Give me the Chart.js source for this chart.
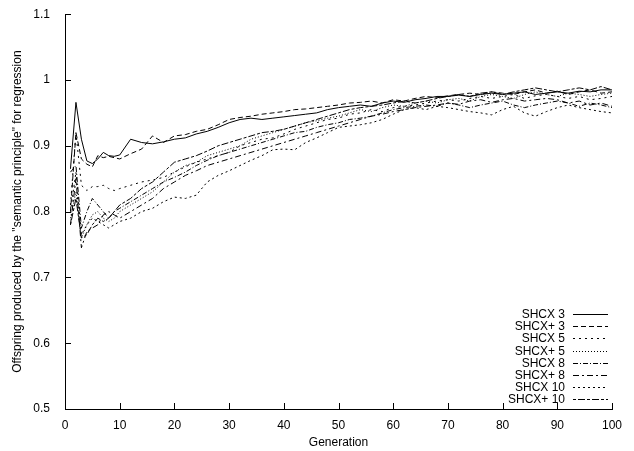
<!DOCTYPE html>
<html>
<head>
<meta charset="utf-8">
<script src="https://cdn.jsdelivr.net/npm/chart.js@4/dist/chart.umd.min.js"></script>
<style>
  html, body { margin: 0; padding: 0; background: #fff; }
  canvas { display: block; }
</style>
</head>
<body>
<canvas id="chart" width="634" height="451"></canvas>
<script>
// Generations sampled from the plot (every gen early on, then every 2nd)
const generations = [1, 2, 3, 4, 5, 6, 7, 8, 9, 10,
  12, 14, 16, 18, 20, 22, 24, 26, 28, 30,
  32, 34, 36, 38, 40, 42, 44, 46, 48, 50,
  52, 54, 56, 58, 60, 62, 64, 66, 68, 70,
  72, 74, 76, 78, 80, 82, 84, 86, 88, 90,
  92, 94, 96, 98, 100];

const seriesNames = ["SHCX 3", "SHCX+ 3", "SHCX 5", "SHCX+ 5", "SHCX 8", "SHCX+ 8", "SHCX 10", "SHCX+ 10"];

const shcx3 = [0.865, 0.966, 0.910, 0.877, 0.873, 0.880, 0.890, 0.885, 0.884, 0.886,
  0.910, 0.905, 0.903, 0.906, 0.910, 0.912, 0.918, 0.922, 0.928, 0.935,
  0.940, 0.942, 0.940, 0.942, 0.944, 0.946, 0.948, 0.950, 0.955, 0.958,
  0.960, 0.962, 0.960, 0.965, 0.968, 0.966, 0.970, 0.972, 0.975, 0.975,
  0.977, 0.975, 0.978, 0.980, 0.978, 0.980, 0.982, 0.978, 0.980, 0.982,
  0.980, 0.983, 0.982, 0.985, 0.985];

const shcxPlus3 = [0.800, 0.920, 0.880, 0.872, 0.868, 0.885, 0.882, 0.884, 0.882, 0.880,
  0.888, 0.895, 0.915, 0.905, 0.915, 0.917, 0.922, 0.925, 0.932, 0.940,
  0.943, 0.945, 0.948, 0.950, 0.952, 0.955, 0.956, 0.958, 0.960, 0.962,
  0.965, 0.966, 0.968, 0.965, 0.970, 0.968, 0.972, 0.975, 0.973, 0.976,
  0.978, 0.980, 0.978, 0.982, 0.980, 0.978, 0.982, 0.985, 0.980, 0.983,
  0.978, 0.982, 0.985, 0.980, 0.982];

const shcx5 = [0.810, 0.920, 0.840, 0.832, 0.838, 0.838, 0.840, 0.835, 0.832, 0.835,
  0.840, 0.845, 0.848, 0.852, 0.860, 0.868, 0.875, 0.880, 0.885, 0.890,
  0.900, 0.905, 0.910, 0.912, 0.918, 0.925, 0.930, 0.935, 0.940, 0.942,
  0.948, 0.950, 0.955, 0.952, 0.958, 0.960, 0.962, 0.965, 0.968, 0.970,
  0.968, 0.972, 0.975, 0.972, 0.975, 0.978, 0.972, 0.976, 0.978, 0.975,
  0.972, 0.975, 0.970, 0.972, 0.975];

const shcxPlus5 = [0.790, 0.830, 0.760, 0.780, 0.795, 0.800, 0.790, 0.785, 0.790, 0.800,
  0.810, 0.820, 0.830, 0.845, 0.860, 0.870, 0.875, 0.885, 0.890, 0.895,
  0.900, 0.910, 0.915, 0.920, 0.925, 0.930, 0.935, 0.938, 0.942, 0.945,
  0.950, 0.955, 0.952, 0.958, 0.962, 0.960, 0.965, 0.968, 0.965, 0.970,
  0.972, 0.968, 0.975, 0.978, 0.975, 0.972, 0.978, 0.982, 0.978, 0.975,
  0.980, 0.978, 0.975, 0.978, 0.980];

const shcx8 = [0.860, 0.870, 0.775, 0.800, 0.820, 0.810, 0.800, 0.790, 0.800, 0.805,
  0.815, 0.825, 0.835, 0.845, 0.852, 0.860, 0.870, 0.878, 0.885, 0.890,
  0.895, 0.900, 0.905, 0.910, 0.915, 0.920, 0.922, 0.928, 0.932, 0.935,
  0.940, 0.942, 0.945, 0.950, 0.955, 0.958, 0.960, 0.962, 0.960, 0.965,
  0.962, 0.958, 0.962, 0.965, 0.968, 0.962, 0.958, 0.962, 0.965, 0.968,
  0.965, 0.960, 0.965, 0.962, 0.958];

const shcxPlus8 = [0.780, 0.850, 0.745, 0.770, 0.775, 0.780, 0.795, 0.800, 0.795, 0.790,
  0.800, 0.810, 0.820, 0.835, 0.845, 0.855, 0.862, 0.870, 0.875, 0.880,
  0.885, 0.890, 0.895, 0.900, 0.905, 0.910, 0.915, 0.920, 0.925, 0.930,
  0.935, 0.940, 0.945, 0.948, 0.952, 0.955, 0.958, 0.960, 0.962, 0.965,
  0.963, 0.968, 0.970, 0.966, 0.970, 0.972, 0.968, 0.970, 0.972, 0.970,
  0.965, 0.968, 0.962, 0.965, 0.960];

const shcx10 = [0.800, 0.860, 0.765, 0.780, 0.790, 0.785, 0.780, 0.775, 0.780, 0.785,
  0.790, 0.800, 0.805, 0.815, 0.822, 0.820, 0.825, 0.845, 0.855, 0.862,
  0.870, 0.878, 0.885, 0.894, 0.895, 0.894, 0.905, 0.912, 0.920, 0.928,
  0.930, 0.932, 0.935, 0.940, 0.948, 0.955, 0.958, 0.955, 0.960, 0.958,
  0.955, 0.952, 0.950, 0.947, 0.955, 0.960, 0.950, 0.945, 0.952, 0.958,
  0.962, 0.958, 0.955, 0.952, 0.950];

const shcxPlus10 = [0.780, 0.820, 0.760, 0.765, 0.780, 0.790, 0.785, 0.790, 0.800, 0.810,
  0.820, 0.835, 0.845, 0.860, 0.875, 0.880, 0.885, 0.892, 0.900, 0.905,
  0.910, 0.915, 0.920, 0.922, 0.925, 0.930, 0.935, 0.940, 0.945, 0.950,
  0.955, 0.958, 0.960, 0.962, 0.965, 0.968, 0.965, 0.968, 0.972, 0.975,
  0.978, 0.975, 0.980, 0.982, 0.978, 0.982, 0.985, 0.988, 0.985, 0.982,
  0.985, 0.988, 0.985, 0.990, 0.985];

const allSeries = [shcx3, shcxPlus3, shcx5, shcxPlus5, shcx8, shcxPlus8, shcx10, shcxPlus10];

// gnuplot-like dash patterns, one per series
const dashes = [[], [5, 3], [2, 4], [1, 2], [5, 2, 1, 2], [6, 3, 2, 3], [2, 3], [3, 2, 7, 2]];

const yTicks = [0.5, 0.6, 0.7, 0.8, 0.9, 1, 1.1];
const xTicks = [0, 10, 20, 30, 40, 50, 60, 70, 80, 90, 100];

const font = { family: "'Liberation Sans', Arial, sans-serif", size: 12 };

// Build datasets from the arrays above
const datasets = allSeries.map(function(values, i) {
  return {
    label: seriesNames[i],
    data: values.map((v, j) => ({ x: generations[j], y: v })),
    borderColor: "#000",
    borderWidth: 1,
    borderDash: dashes[i],
    pointRadius: 0,
    tension: 0,
    fill: false
  };
});

// Inward tick marks, like gnuplot draws them
const innerTicks = {
  id: "innerTicks",
  afterDraw(chart) {
    const c = chart.ctx;
    const xs = chart.scales.x, ys = chart.scales.y;
    const a = chart.chartArea;
    c.save();
    c.strokeStyle = "#000";
    c.lineWidth = 1;
    c.beginPath();
    xTicks.forEach(t => {
      const px = Math.round(xs.getPixelForValue(t)) + 0.5;
      c.moveTo(px, a.bottom);
      c.lineTo(px, a.bottom - 6);
    });
    yTicks.forEach(t => {
      const py = Math.round(ys.getPixelForValue(t)) + 0.5;
      c.moveTo(a.left, py);
      c.lineTo(a.left + 6, py);
    });
    c.stroke();
    c.restore();
  }
};

// Legend in the lower right, text on the left and line sample on the right
const sampleLegend = {
  id: "sampleLegend",
  afterDraw(chart) {
    const c = chart.ctx;
    c.save();
    c.font = "12px " + font.family;
    c.fillStyle = "#000";
    c.textAlign = "right";
    c.textBaseline = "middle";
    chart.data.datasets.forEach((ds, i) => {
      const y = Math.round(314 + i * 12.2) + 0.5;
      c.fillText(ds.label, 565, y);
      c.strokeStyle = "#000";
      c.lineWidth = 1;
      c.setLineDash(ds.borderDash);
      c.beginPath();
      c.moveTo(573, y);
      c.lineTo(608, y);
      c.stroke();
    });
    c.restore();
  }
};

new Chart(document.getElementById("chart"), {
  type: "line",
  data: { datasets: datasets },
  options: {
    responsive: false,
    animation: false,
    layout: { padding: { top: 14, right: 22, bottom: 0, left: 0 } },
    plugins: {
      legend: { display: false },
      tooltip: { enabled: false }
    },
    scales: {
      x: {
        type: "linear",
        min: 0,
        max: 100,
        afterFit: s => { s.height = 42; },
        afterBuildTicks: s => { s.ticks = xTicks.map(v => ({ value: v })); },
        grid: { display: false },
        border: { display: true, color: "#000", width: 1 },
        ticks: { color: "#000", font: font, padding: 1, maxRotation: 0 },
        title: { display: true, text: "Generation", color: "#000", font: font, padding: { top: 0, bottom: 1 } }
      },
      y: {
        type: "linear",
        min: 0.5,
        max: 1.1,
        afterFit: s => { s.width = 65; },
        afterBuildTicks: s => { s.ticks = yTicks.map(v => ({ value: v })); },
        grid: { display: false },
        border: { display: true, color: "#000", width: 1 },
        ticks: { color: "#000", font: font, padding: 7, callback: v => String(v) },
        title: { display: true, text: "Offspring produced by the \"semantic principle\" for regression", color: "#000", font: font, padding: { top: 10, bottom: 0 } }
      }
    }
  },
  plugins: [innerTicks, sampleLegend]
});
</script>
</body>
</html>
